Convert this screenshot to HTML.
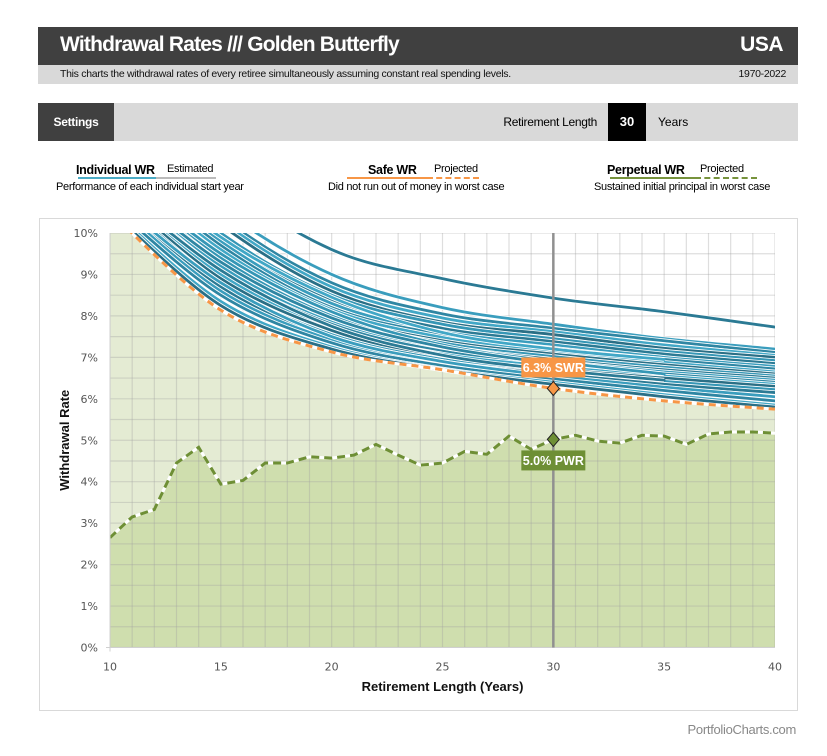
<!DOCTYPE html>
<html><head><meta charset="utf-8"><style>
body{margin:0;width:827px;height:756px;background:#fff;font-family:"Liberation Sans",Arial,sans-serif;position:relative;overflow:hidden}
.abs{position:absolute}
</style></head><body>
<div class="abs" style="left:38px;top:27px;width:760px;height:38px;background:#404040"></div>
<div class="abs" style="left:60px;top:33px;color:#fff;font-weight:bold;font-size:21px;letter-spacing:-0.8px">Withdrawal Rates /// Golden Butterfly</div>
<div class="abs" style="right:44px;top:33px;color:#fff;font-weight:bold;font-size:21px;letter-spacing:-0.5px">USA</div>
<div class="abs" style="left:38px;top:65px;width:760px;height:19px;background:#d9d9d9"></div>
<div class="abs" style="left:60px;top:68px;font-size:10.5px;letter-spacing:-0.3px;color:#111">This charts the withdrawal rates of every retiree simultaneously assuming constant real spending levels.</div>
<div class="abs" style="right:41px;top:68px;font-size:10.5px;letter-spacing:-0.3px;color:#111">1970-2022</div>
<div class="abs" style="left:38px;top:103px;width:760px;height:38px;background:#d9d9d9"></div>
<div class="abs" style="left:38px;top:103px;width:76px;height:38px;background:#404040;color:#fff;font-weight:bold;font-size:12px;line-height:38px;text-align:center;letter-spacing:-0.3px">Settings</div>
<div class="abs" style="right:230px;top:103px;line-height:38px;font-size:12px;letter-spacing:-0.3px">Retirement Length</div>
<div class="abs" style="left:608px;top:103px;width:38px;height:38px;background:#000;color:#fff;font-weight:bold;font-size:13px;line-height:38px;text-align:center">30</div>
<div class="abs" style="left:658px;top:103px;line-height:38px;font-size:12px">Years</div>

<div class="abs" style="left:76px;top:163px;font-size:12.5px;font-weight:bold;letter-spacing:-0.3px">Individual WR</div>
<div class="abs" style="left:167px;top:163px;font-size:11px;letter-spacing:-0.3px">Estimated</div>
<div class="abs" style="left:78px;top:177px;width:78px;height:2px;background:#4bacc6"></div>
<div class="abs" style="left:156px;top:177px;width:60px;height:2px;background:#bbb"></div>
<div class="abs" style="left:56px;top:181px;font-size:11px;letter-spacing:-0.3px">Performance of each individual start year</div>

<div class="abs" style="left:368px;top:163px;font-size:12.5px;font-weight:bold;letter-spacing:-0.3px">Safe WR</div>
<div class="abs" style="left:434px;top:163px;font-size:11px;letter-spacing:-0.3px">Projected</div>
<div class="abs" style="left:347px;top:177px;width:80px;height:2px;background:#f79646"></div>
<div class="abs" style="left:427px;top:177px;width:52px;height:0;border-top:2px dashed #f79646"></div>
<div class="abs" style="left:328px;top:181px;font-size:11px;letter-spacing:-0.3px">Did not run out of money in worst case</div>

<div class="abs" style="left:607px;top:163px;font-size:12.5px;font-weight:bold;letter-spacing:-0.3px">Perpetual WR</div>
<div class="abs" style="left:700px;top:163px;font-size:11px;letter-spacing:-0.3px">Projected</div>
<div class="abs" style="left:610px;top:177px;width:85px;height:2px;background:#77933c"></div>
<div class="abs" style="left:695px;top:177px;width:62px;height:0;border-top:2px dashed #77933c"></div>
<div class="abs" style="left:594px;top:181px;font-size:11px;letter-spacing:-0.3px">Sustained initial principal in worst case</div>

<div class="abs" style="left:39px;top:218px;width:757px;height:491px;border:1px solid #d9d9d9"></div>
<svg class="abs" style="left:0;top:0" width="827" height="756" id="chart"></svg>
<div class="abs" style="right:31px;top:722px;font-size:13px;color:#888;letter-spacing:-0.3px">PortfolioCharts.com</div>

<script>
const lengths=[10,15,20,25,30,35,40];
const individualSeries=[
[14,11.3,9.6,8.9,8.43,8.1,7.73],
[13,10.6,9.0,8.2,7.8,7.45,7.2],
[12.8,10.4,8.8,8.05,7.7,7.4,7.12],
[12.6,10.3,8.7,7.95,7.62,7.3,7.05],
[12.5,10.2,8.6,7.85,7.55,7.22,7.0],
[12.3,10.0,8.5,7.8,7.45,7.15,6.92],
[12.2,9.9,8.4,7.7,7.38,7.08,6.85],
[12.0,9.8,8.3,7.62,7.3,7.0,6.78],
[11.9,9.7,8.2,7.55,7.22,6.95,6.72],
[11.8,9.6,8.15,7.48,7.15,6.88,6.65],
[11.7,9.5,8.05,7.4,7.08,6.82,6.6],
[11.6,9.4,8.0,7.35,7.02,6.76,6.55],
[11.5,9.3,7.9,7.28,6.95,6.7,6.5],
[11.4,9.2,7.85,7.2,6.9,6.65,6.45],
[11.3,9.1,7.8,7.15,6.85,6.6,6.4],
[11.2,9.0,7.7,7.08,6.78,6.55,6.35],
[11.1,8.9,7.65,7.0,6.72,6.5,6.3],
[11.0,8.8,7.55,6.95,6.66,6.42,6.22],
[10.9,8.7,7.5,6.9,6.6,6.35,6.15],
[10.8,8.6,7.42,6.85,6.55,6.28,6.05],
[10.7,8.5,7.35,6.8,6.48,6.2,5.95],
[10.6,8.35,7.25,6.72,6.4,6.1,5.85],
[10.55,8.25,7.2,6.7,6.35,6.05,5.8],
[11.6,9.5,8.1,7.3,6.9,6.6,null],
[11.2,9.1,7.75,7.05,6.7,6.45,null],
[10.9,8.8,7.5,6.9,6.55,null,null],
[11.4,9.3,7.95,7.25,6.85,null,null],
[12.1,9.9,8.45,7.6,7.2,6.95,null]
];
const swrLengths=[10,15,20,25,30,35,40];
const swrValues=[10.5,8.14,7.13,6.7,6.25,5.95,5.75];
const pwrLengths=[10,11,12,13,14,15,16,17,18,19,20,21,22,23,24,25,26,27,28,29,30,31,32,33,34,35,36,37,38,39,40];
const pwrValues=[2.65,3.15,3.33,4.45,4.83,3.94,4.03,4.45,4.45,4.6,4.57,4.64,4.9,4.64,4.4,4.45,4.73,4.66,5.1,4.78,5.02,5.12,4.98,4.93,5.12,5.1,4.9,5.15,5.2,5.2,5.17];
const yTicks=[0,1,2,3,4,5,6,7,8,9,10];
const xTicks=[10,15,20,25,30,35,40];
const selectedLength=30, swrLabel="6.3% SWR", pwrLabel="5.0% PWR", swrAt=6.25, pwrAt=5.02;

const X0=110,X1=775,Y0=647.5,Y1=233;
const xs=v=>X0+(v-10)/30*(X1-X0);
const ys=v=>Y0-(v/10)*(Y0-Y1);
const svg=document.getElementById('chart');
const NS='http://www.w3.org/2000/svg';
function mk(t,a,p){const e=document.createElementNS(NS,t);for(const k in a)e.setAttribute(k,a[k]);(p||svg).appendChild(e);return e;}
function smooth(pts){let d='M'+pts[0][0]+','+pts[0][1];for(let i=0;i<pts.length-1;i++){const p0=pts[i-1]||pts[i],p1=pts[i],p2=pts[i+1],p3=pts[i+2]||p2;
d+=' C'+(p1[0]+(p2[0]-p0[0])/6)+','+(p1[1]+(p2[1]-p0[1])/6)+' '+(p2[0]-(p3[0]-p1[0])/6)+','+(p2[1]-(p3[1]-p1[1])/6)+' '+p2[0]+','+p2[1];}return d;}
const defs=mk('defs',{});
const cp=mk('clipPath',{id:'plot'},defs);mk('rect',{x:X0,y:Y1,width:X1-X0,height:Y0-Y1},cp);
const g=mk('g',{'clip-path':'url(#plot)'});
const swrPts=swrLengths.map((l,i)=>[xs(l),ys(swrValues[i])]);
const swrArea=mk('path',{d:smooth(swrPts)+` L${X1},${Y0} L${X0},${Y0} Z`,fill:'#e4ebd3'},g);

const pwrPts=pwrLengths.map((l,i)=>[xs(l),ys(pwrValues[i])]);
const pwrD='M'+pwrPts.map(p=>p.join(',')).join(' L');
const pwrArea=mk('path',{d:pwrD+` L${X1},${Y0} L${X0},${Y0} Z`,fill:'#cfdeae'},g);

for(let v=10;v<=40;v++){mk('line',{x1:xs(v),x2:xs(v),y1:Y1,y2:Y0,stroke:'rgba(160,160,160,0.35)','stroke-width':1.2},g);}
for(let v=0;v<=10;v+=0.5){mk('line',{x1:X0,x2:X1,y1:ys(v),y2:ys(v),stroke:'rgba(160,160,160,0.35)','stroke-width':1.2},g);}
const cols=['#2b7a94','#3a9dbd','#2f86a3','#41a7c6','#2a6f86','#3596b5'];
individualSeries.forEach((s,i)=>{const pts=[];s.forEach((v,j)=>{if(v!=null)pts.push([xs(lengths[j]),ys(v)]);});
mk('path',{d:smooth(pts),fill:'none',stroke:'#fff','stroke-width':4.5},g);
const p=mk('path',{d:smooth(pts),fill:'none',stroke:cols[i%cols.length],'stroke-width':2.8,'stroke-linecap':'round'},g);
});
mk('path',{d:smooth(swrPts),fill:'none',stroke:'#fff','stroke-width':3},g);
const swrL=mk('path',{d:smooth(swrPts),fill:'none',stroke:'#f79646','stroke-width':3,'stroke-dasharray':'7 5'},g);

mk('path',{d:pwrD,fill:'none',stroke:'#fff','stroke-width':3},g);
const pwrL=mk('path',{d:pwrD,fill:'none',stroke:'#6e8f35','stroke-width':3,'stroke-dasharray':'8 5'},g);

mk('line',{x1:X0,x2:X0,y1:Y1,y2:Y0+4,stroke:'#d0d0d0'});
mk('line',{x1:X0-4,x2:X1,y1:Y0,y2:Y0,stroke:'#d0d0d0'});
yTicks.forEach(v=>{const t=mk('text',{x:X0-12,y:ys(v)+4,'text-anchor':'end','font-size':11,fill:'#555','font-family':'DejaVu Sans,sans-serif'});t.textContent=v+'%';
});
xTicks.forEach(v=>{const t=mk('text',{x:xs(v),y:Y0+23,'text-anchor':'middle','font-size':11,fill:'#555','font-family':'DejaVu Sans,sans-serif'});t.textContent=v;
});
const xt=mk('text',{x:(X0+X1)/2,y:691,'text-anchor':'middle','font-size':13,'font-weight':'bold',fill:'#111'});xt.textContent='Retirement Length (Years)';

const yt=mk('text',{x:0,y:0,'text-anchor':'middle','font-size':13,'font-weight':'bold',fill:'#111',transform:`translate(69,${(Y0+Y1)/2}) rotate(-90)`});yt.textContent='Withdrawal Rate';

const sx=xs(selectedLength);
const sl=mk('line',{x1:sx,x2:sx,y1:Y1,y2:Y0,stroke:'#909090','stroke-width':2.5});

function diamond(y,c,n){const d=mk('path',{d:`M${sx},${y-7} L${sx+6},${y} L${sx},${y+7} L${sx-6},${y} Z`,fill:c,stroke:'#222','stroke-width':1});}
diamond(ys(swrAt),'#f79646','swr-marker');diamond(ys(pwrAt),'#6e8f35','pwr-marker');
function label(y,c,txt,n){mk('rect',{x:sx-32,y:y,width:64,height:20,fill:c});const t=mk('text',{x:sx,y:y+14.5,'text-anchor':'middle','font-size':12.5,'font-weight':'bold',fill:'#fff'});t.textContent=txt;}
label(ys(swrAt)-31,'#f79646',swrLabel,'swr-label');
label(ys(pwrAt)+11,'#6e8f35',pwrLabel,'pwr-label');
</script>
</body></html>
